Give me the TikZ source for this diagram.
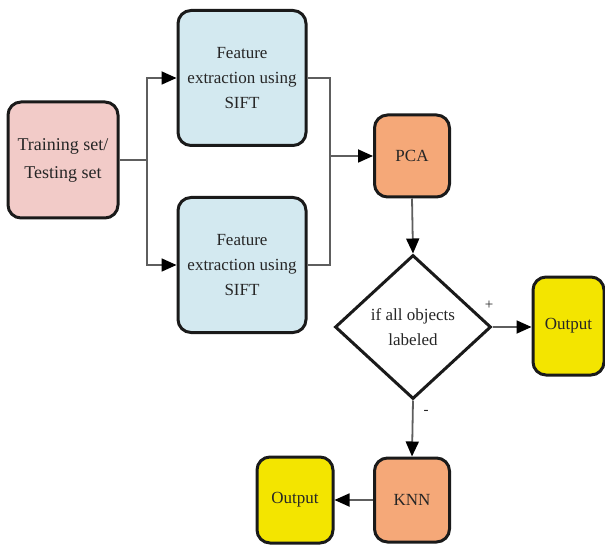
\documentclass[tikz,border=0pt]{standalone}
\usepackage{fontspec}
\setmainfont{Liberation Serif}
\usetikzlibrary{shapes.geometric,arrows.meta}
\definecolor{trainfill}{HTML}{F2CBC8}
\definecolor{featfill}{HTML}{D3E9F0}
\definecolor{orfill}{HTML}{F5A878}
\definecolor{outfill}{HTML}{F3E500}
\definecolor{edgecol}{HTML}{1A1A1A}
\definecolor{linecol}{HTML}{5E5E5E}
\definecolor{txtcol}{HTML}{262626}
\tikzset{
  box/.style={draw=edgecol, line width=3pt, rounded corners=13pt, align=center,
    text=txtcol, inner sep=0pt, font=\fontsize{17}{25}\selectfont},
  conn/.style={draw=linecol, line width=1.8pt},
  arr/.style={conn, -{Triangle[length=15pt,width=13pt,fill=black,color=black]}},
  lbl/.style={text=txtcol, font=\fontsize{15}{15}\selectfont, inner sep=0pt},
}
\begin{document}
\begin{tikzpicture}[x=1pt,y=-1pt]
\useasboundingbox (0,0) rectangle (605,548);
\node[box, fill=trainfill, minimum width=110pt, minimum height=116pt,
  font=\fontsize{18}{28}\selectfont] (train) at (63,160) {Training set/\\Testing set};
\node[box, fill=featfill, minimum width=128pt, minimum height=135pt] (f1) at (242,78) {Feature\\extraction using\\SIFT};
\node[box, fill=featfill, minimum width=128pt, minimum height=135pt] (f2) at (242,265) {Feature\\extraction using\\SIFT};
\node[box, fill=orfill, minimum width=75pt, minimum height=82pt] (pca) at (412,156) {PCA};
\node[draw=edgecol, line width=3pt, shape=diamond, minimum width=156pt, minimum height=144pt,
  inner sep=0pt, align=center, text=txtcol, font=\fontsize{17}{25}\selectfont, fill=white] (dia) at (413,327) {if all objects\\labeled};
\node[box, fill=outfill, minimum width=71pt, minimum height=98pt] (outR) at (568.5,326) {Output};
\node[box, fill=orfill, minimum width=75pt, minimum height=84pt] (knn) at (412,500) {KNN};
\node[box, fill=outfill, minimum width=76pt, minimum height=86pt] (outL) at (295,500) {Output};

\coordinate (j1) at (147,160);
\coordinate (j2) at (330,156);
\draw[conn] (train.east) -- (j1);
\draw[arr] (j1) |- (f1.west);
\draw[arr] (j1) |- (f2.west);
\draw[conn] (f1.east) -| (j2);
\draw[conn] (f2.east) -| (j2);
\draw[arr] (j2) -- (pca.west);
\draw[arr] (pca.south) -- (dia.north);
\draw[arr] (dia.east) -- (dia.east -| outR.west);
\draw[arr] (dia.south) -- (knn.north);
\draw[arr] (knn.west) -- (outL.east);
\node[lbl] (plus) at (489,305) {+};
\node[lbl] (minus) at (426,412) {-};
\end{tikzpicture}
\end{document}
